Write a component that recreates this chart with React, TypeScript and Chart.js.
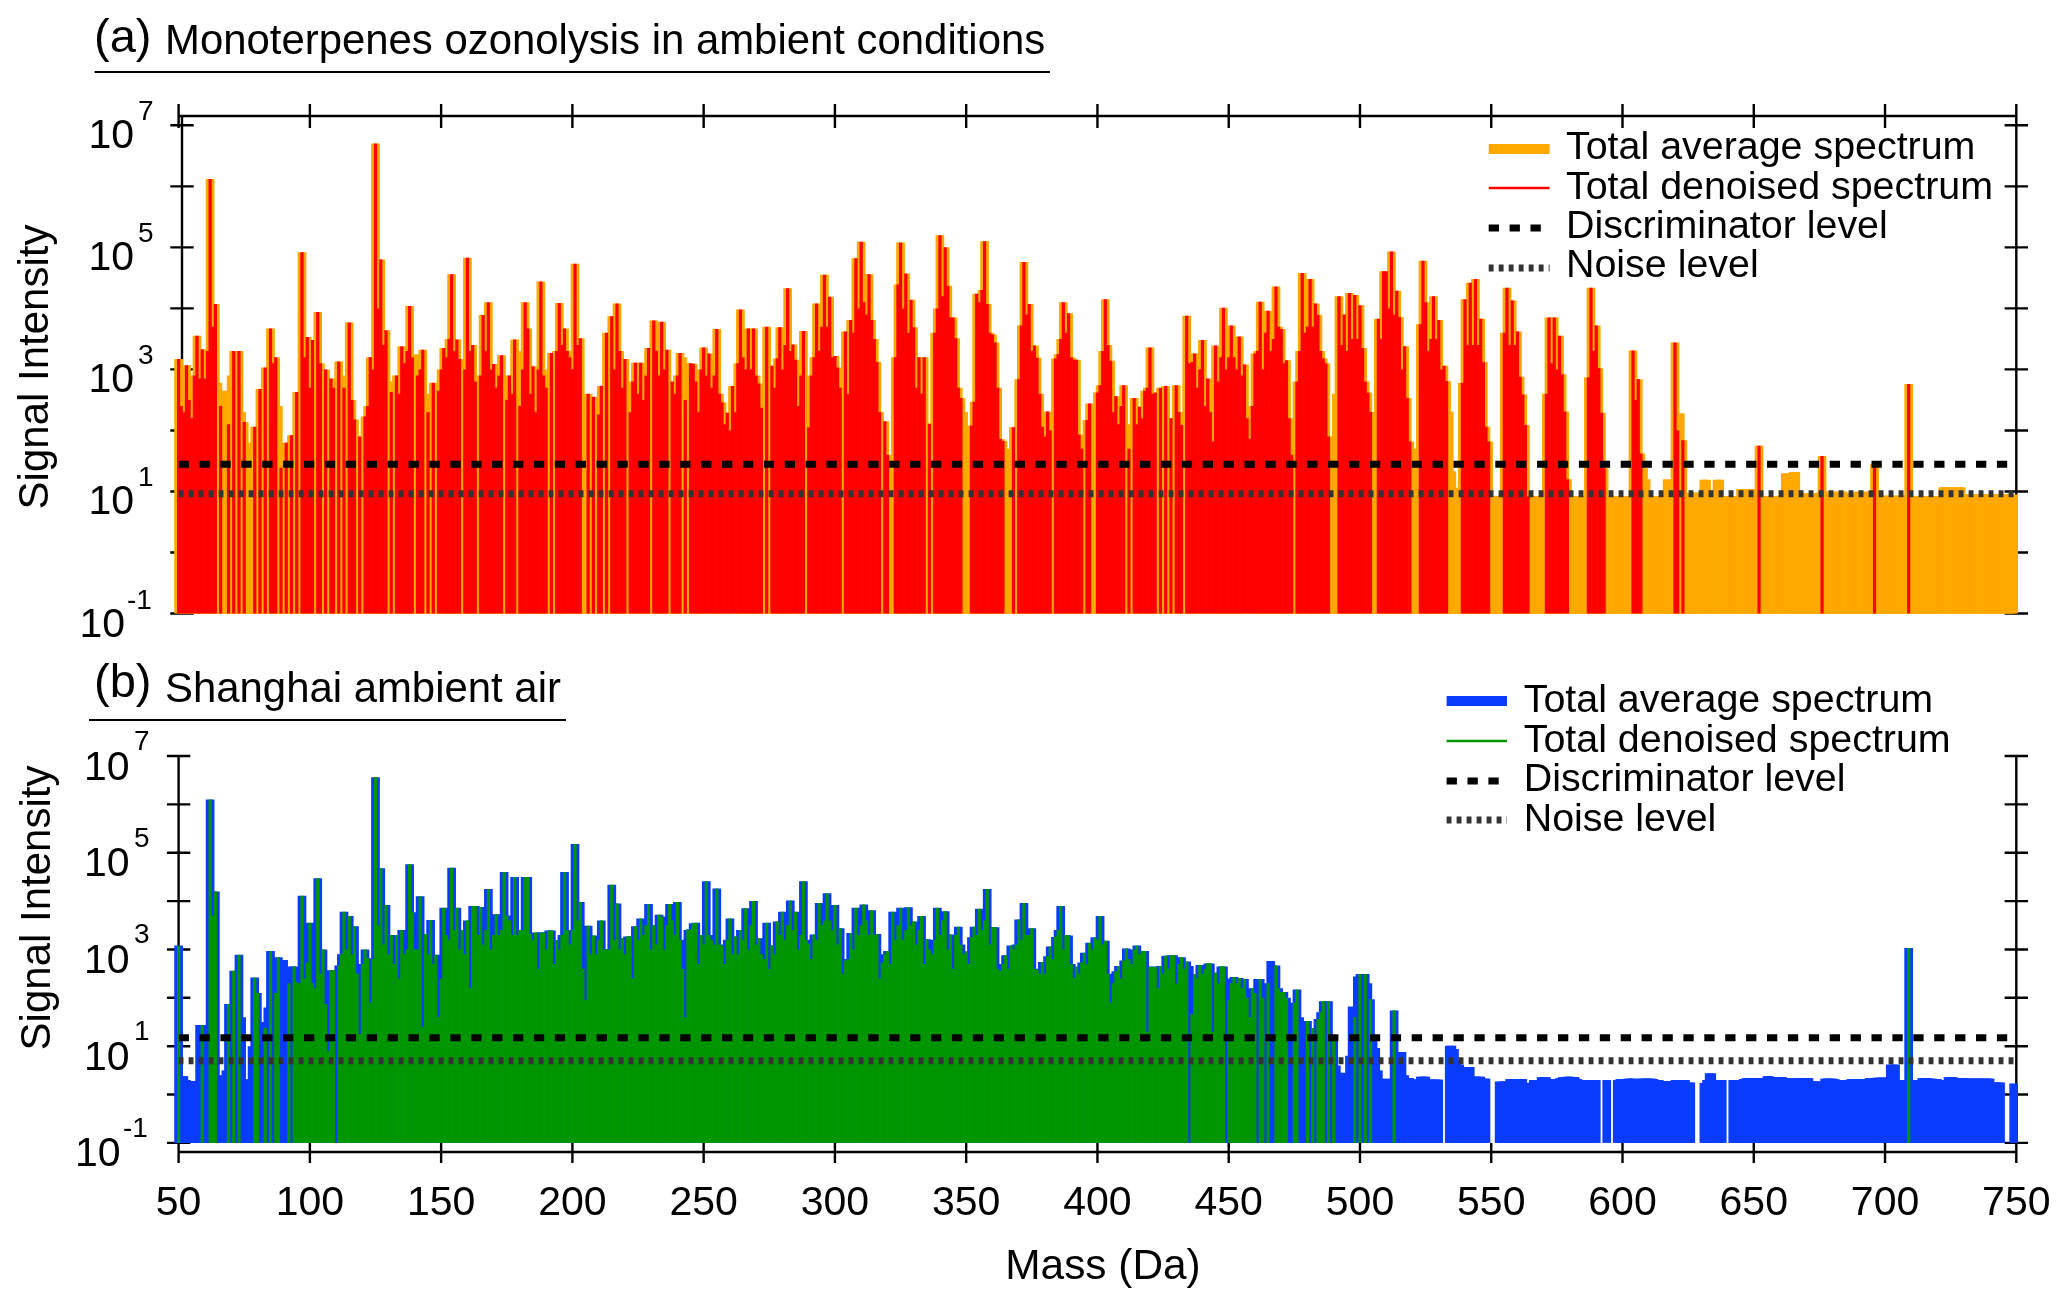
import React, { useEffect, useRef } from "react";
import { Chart, registerables } from "chart.js";

Chart.register(...registerables);

const N = null;
const FIRST_MASS = 50;

// log10 of the signal, one value per mass (Da), ten masses to a row, from 50 Da.
const averageLogA = [
  3.17,2.4,2.3,3.07,2.5,2.2,2.9,3.55,2.85,3.33,
  2.85,3.3,6.12,3.7,4.07,2.78,2.4,1.9,2.65,2.1,
  2.9,3.3,2.8,3.3,2.3,2.14,1.8,1.3,1.2,2.06,
  1.6,2.68,2.2,3.03,2.5,3.67,3.1,3.2,2.4,1.39,
  1.4,1.8,1.5,1.92,1.6,2.63,2.2,4.92,3.2,3.53,
  2.7,3.48,2.6,3.94,3.1,2.8,3.0,2.6,2.85,2.7,
  2.7,3.13,2.9,2.7,2.4,3.77,2.5,2.18,1.4,1.9,
  1.7,2.23,2.4,3.2,3.0,6.7,4.0,4.8,3.4,3.64,
  2.8,2.63,2.4,2.9,2.6,3.38,3.1,3.3,4.04,3.2,
  3.25,2.9,3.0,3.32,2.6,2.3,2.4,2.78,2.4,2.65,
  3.0,3.35,3.2,3.5,4.56,3.3,3.49,3.17,2.4,3.0,
  4.83,3.3,3.4,2.8,2.6,2.9,3.89,3.3,4.1,3.0,
  3.09,2.7,2.9,3.23,2.7,2.5,2.9,2.6,3.49,3.3,
  2.4,3.0,4.1,3.67,2.6,3.05,2.3,3.0,4.44,2.9,
  2.7,3.0,3.27,2.9,3.3,4.09,3.4,3.67,3.3,3.2,
  3.0,4.73,3.4,3.51,2.5,2.3,2.6,2.1,2.55,2.0,
  2.26,2.73,2.2,3.6,2.4,3.87,3.0,4.08,3.3,2.7,
  3.17,2.6,2.3,2.8,3.11,2.6,3.11,2.5,2.9,3.35,
  3.0,3.8,3.3,2.9,3.78,3.0,3.32,2.6,2.8,2.6,
  2.9,3.27,3.2,2.5,2.8,3.1,3.09,2.8,2.3,3.0,
  3.36,2.9,3.26,2.7,2.9,3.66,2.6,2.46,2.1,2.29,
  2.0,2.73,2.3,3.1,3.98,3.2,3.0,3.67,3.0,3.67,
  2.9,2.77,2.37,2.6,3.7,2.5,3.06,2.7,3.18,3.69,
  3.0,3.4,4.33,3.3,3.41,3.16,2.4,2.9,3.63,2.5,
  2.05,2.9,3.2,4.08,3.3,3.7,4.55,3.7,4.19,3.2,
  3.22,3.03,2.7,2.3,3.62,2.6,3.81,3.6,4.82,4.0,
  5.09,4.1,3.9,4.56,3.81,3.5,3.12,2.3,2.15,2.15,
  1.6,1.4,1.4,3.2,4.39,5.08,4.0,4.57,3.6,4.14,
  3.69,2.7,3.2,2.6,3.2,1.9,2.11,1.6,3.6,4.0,
  5.2,4.2,5.0,4.37,3.85,3.85,3.51,2.7,2.53,2.3,
  1.9,1.7,2.08,2.47,4.24,4.1,4.3,5.1,4.07,3.6,
  3.57,3.44,2.7,1.86,1.83,1.3,1.2,1.7,2.05,1.7,
  2.84,3.72,4.76,3.9,4.07,3.3,3.39,3.19,2.6,2.06,
  1.9,2.31,2.0,1.9,3.18,3.25,3.5,4.1,3.6,3.92,
  3.2,3.16,3.16,1.93,1.7,1.7,2.17,2.44,2.2,2.3,
  2.62,2.74,3.3,4.15,3.4,3.14,2.3,2.56,2.1,2.4,
  2.74,2.0,1.7,2.1,2.53,2.1,2.39,2.2,2.65,2.7,
  3.36,2.6,2.62,1.7,2.7,2.1,2.73,2.1,2.2,2.0,
  2.74,2.3,2.09,2.1,3.88,3.1,3.12,3.26,2.7,3.0,
  3.48,2.4,2.85,2.3,1.82,3.39,2.8,3.2,4.01,3.0,
  3.2,3.72,3.2,3.0,3.54,2.9,3.08,2.2,1.86,2.4,
  3.26,3.3,4.11,3.0,3.6,3.96,3.3,3.5,4.36,3.7,
  3.66,3.1,3.15,2.2,1.6,1.3,2.8,3.3,4.58,3.6,
  3.7,4.48,3.7,4.08,3.89,3.3,3.18,3.1,1.9,1.36,
  1.2,2.6,4.2,3.4,3.9,3.3,4.25,3.5,4.22,3.5,
  4.05,3.35,2.8,2.62,2.3,1.77,1.77,3.83,3.5,4.61,
  4.61,4.0,4.93,3.9,4.29,3.86,3.0,3.38,2.53,1.82,
  1.7,.93,.93,3.74,4.78,4.1,3.3,3.5,4.2,3.5,
  3.81,3.0,3.06,2.81,2.31,1.33,.95,1.06,.95,2.78,
  4.15,3.4,4.42,3.4,4.48,3.4,3.83,3.12,2.06,1.82,
  .93,.92,.92,.92,.93,3.6,4.34,3.4,4.13,3.4,
  3.62,2.88,2.59,2.09,.92,.92,.92,.92,.92,.92,
  .92,2.6,3.85,3.1,3.85,3.0,3.55,2.92,2.31,1.2,
  .92,.92,.92,.85,.92,.92,.92,2.87,4.34,3.3,
  3.72,3.02,2.29,1.38,.92,.92,.92,.92,.92,.92,
  .92,.92,.92,.92,3.31,2.5,2.84,1.62,1.38,1.2,
  .92,.92,.92,.92,.92,.92,.92,1.2,.95,.95,
  3.44,2.0,2.28,1.84,.95,.95,.98,.98,.98,.98,
  .98,1.19,1.19,.98,.98,.98,1.19,1.19,.92,.92,
  .92,.92,.92,.92,.92,1.04,1.04,1.04,1.04,1.04,
  .92,.92,1.75,.92,.92,.92,.92,.92,.92,.92,
  .93,.93,1.3,1.3,1.25,1.32,1.32,.95,.97,.97,
  .97,.97,.97,.97,.95,.98,1.58,.98,1.0,1.0,
  1.0,.98,.98,1.0,1.0,.97,.97,.97,.98,.98,
  1.0,1.0,.98,.98,1.0,1.0,1.45,.93,.93,.93,
  .93,.93,.93,.93,.93,.93,.93,.93,.93,2.76,
  .92,.92,.92,.92,.92,.92,.92,.92,.92,.92,
  .92,.85,1.07,1.07,1.07,1.07,1.07,1.07,1.07,1.07,
  .95,.95,.95,.95,.95,.95,.95,.95,.95,.95,
  .95,.95,.95,.95,.95,.95,.95,.95,.95,.95,
];

const averageLogB = [
  3.08,.38,.38,.3,.28,.28,.28,.28,1.44,1.44,
  1.0,.6,6.1,3.7,4.2,.4,.2,.2,.5,1.87,
  1.6,2.56,2.3,2.89,1.6,.31,.31,.31,1.0,2.42,
  2.1,1.5,.8,1.38,1.8,2.97,2.2,2.1,2.84,1.8,
  2.78,1.5,2.3,2.65,2.65,2.32,2.3,4.11,2.4,2.73,
  3.55,2.3,2.2,4.47,2.5,3.0,1.87,.9,2.57,2.57,
  2.57,2.67,2.9,3.78,3.0,3.69,2.9,3.48,2.5,1.25,
  2.7,3.0,2.82,1.9,2.8,6.56,3.5,4.68,3.1,3.92,
  2.9,3.3,2.7,3.3,2.4,3.4,2.9,3.0,4.76,3.77,
  3.0,3.0,4.1,1.4,3.32,2.9,3.61,2.7,2.89,1.6,
  2.4,3.86,3.3,3.2,4.69,3.4,3.86,3.0,3.4,2.9,
  3.6,2.2,3.9,3.9,3.3,3.88,3.1,3.4,4.25,3.0,
  3.3,3.73,3.3,3.4,4.6,3.7,3.6,3.3,4.5,3.3,
  3.4,3.4,4.5,4.5,3.32,3.2,3.35,2.6,3.35,3.35,
  3.0,3.39,3.39,2.7,3.19,3.0,3.3,4.6,3.4,3.1,
  3.4,5.18,3.6,3.98,2.6,1.95,3.49,2.9,3.29,2.9,
  3.2,3.6,3.0,3.0,3.0,4.34,3.2,3.95,3.0,3.23,
  2.9,3.27,3.27,2.4,3.48,3.2,3.64,3.3,3.5,3.94,
  3.0,3.5,3.1,3.72,3.68,3.0,3.5,3.94,3.6,3.3,
  3.98,3.2,2.6,1.6,3.4,3.42,3.54,3.55,2.7,3.3,
  3.1,4.41,3.3,3.2,3.1,4.26,3.1,3.08,2.7,3.2,
  3.64,2.9,3.27,2.9,3.4,3.2,3.85,3.0,3.5,4.0,
  3.1,3.23,2.9,2.8,3.55,2.6,3.08,2.9,3.58,3.3,
  3.78,3.2,3.5,4.01,3.4,3.78,3.0,3.3,4.41,3.2,
  3.12,2.8,3.31,3.2,3.96,3.5,3.6,4.16,3.6,3.4,
  3.92,3.1,3.44,2.5,2.77,2.8,3.34,3.0,3.86,3.3,
  3.5,3.93,3.6,3.3,3.81,3.3,3.32,2.4,2.73,2.9,
  2.97,2.7,3.78,3.2,3.5,3.86,3.2,3.4,3.87,3.5,
  3.58,3.1,3.4,3.69,2.7,3.21,3.0,2.9,3.2,3.86,
  3.3,3.6,3.79,3.0,3.31,2.6,3.3,3.47,3.1,2.9,
  2.96,2.7,3.25,3.47,3.3,3.84,3.4,3.6,4.25,3.1,
  3.46,3.46,2.6,2.56,2.7,2.88,2.6,3.08,3.0,3.1,
  3.62,3.2,3.96,3.3,3.3,3.44,2.6,2.58,2.5,2.74,
  2.5,2.86,3.06,2.8,3.26,3.4,3.9,3.0,3.3,3.29,
  2.7,2.41,2.64,2.5,2.73,2.93,2.7,3.14,3.0,3.25,
  3.2,3.69,3.1,3.18,2.5,1.9,2.3,2.55,2.66,2.4,
  2.77,3.02,2.8,2.7,3.0,3.08,2.9,2.97,2.97,1.3,
  2.64,2.64,2.64,2.2,2.66,2.5,2.87,2.6,2.88,2.88,
  2.3,2.7,2.84,2.6,2.75,2.66,1.67,2.49,2.4,2.68,
  2.5,2.6,2.71,2.71,1.3,2.52,2.3,2.65,2.65,2.4,
  1.95,2.3,2.43,2.3,2.41,2.2,2.39,2.0,1.6,2.2,
  2.1,2.39,2.39,2.0,1.5,2.3,2.76,2.2,2.67,2.2,
  2.12,2.12,2.0,1.65,1.4,1.9,2.17,1.6,.92,1.2,
  1.52,1.1,1.37,1.0,1.56,1.7,1.93,1.4,1.93,1.0,
  1.12,.6,.45,.45,.33,.33,.8,1.82,1.6,2.44,
  2.49,2.49,2.49,2.3,1.97,1.2,.96,.5,.29,.3,
  .33,.3,.3,1.74,.6,.7,.88,.4,.34,.34,
  .31,.31,.31,.37,.37,.37,.31,.31,.31,.31,
  .31,N,N,N,1.01,1.01,.94,.7,.62,.5,
  .57,.57,.57,.37,.37,.37,.37,.33,.33,N,
  N,N,N,.27,.27,.27,.27,.32,.32,.32,
  .32,.32,.32,.24,.24,.24,.3,.3,.3,.36,
  .36,.36,.32,.32,.26,.26,.34,.36,.36,.37,
  .37,.36,.36,.32,.3,.28,.3,.3,.3,.3,
  .3,N,N,N,.3,N,N,N,.3,.32,
  .32,.3,.33,.33,.33,.32,.3,.33,.33,.33,
  .33,.33,.32,.3,.3,.28,.28,.27,.28,.28,
  .3,.3,.3,.3,.3,.25,.25,N,N,N,
  N,.24,.3,.44,.44,.3,.3,.3,.3,N,
  N,N,.3,.3,.3,.3,.32,.34,.34,.34,
  .34,.34,.34,.34,.34,.38,.38,.36,.34,.36,
  .36,.36,.34,.34,.32,.32,.34,.34,.34,.34,
  .34,.34,.28,.27,.27,.27,.27,.33,.33,.33,
  .33,.32,.3,.3,.3,.3,.3,.32,.32,.32,
  .32,.32,.32,.32,.34,.34,.34,.35,.35,.35,
  .35,.35,.62,.62,.62,.28,.28,.3,.3,3.03,
  .3,.3,.25,.25,.34,.34,.34,.33,.33,.32,
  .32,.24,.3,.3,.36,.36,.36,.33,.33,.34,
  .34,.33,.33,.33,.33,.33,.33,.33,.33,.33,
  .33,.25,.25,.25,.25,N,N,N,N,.23,
];

// Mass ranges [from, to] in which the denoised spectrum keeps the signal.
const denoisedRangesA = [
  [50,64],[66,66],[69,69],[71,71],[73,73],[75,75],[79,79],[81,81],[83,83],[85,87],[89,89],[91,91],[93,93],[95,95],
  [97,101],[103,104],[106,106],[108,109],[111,111],[113,113],[115,117],[119,119],[121,129],[131,131],[133,139],
  [141,143],[145,145],[147,147],[149,157],[159,163],[165,173],[175,178],[180,190],[192,192],[194,203],[206,206],
  [208,208],[210,211],[213,213],[215,220],[222,229],[231,236],[238,241],[243,243],[245,272],[274,274],[276,288],
  [290,302],[304,317],[319,320],[323,334],[336,336],[338,348],[352,364],[368,368],[370,382],[384,394],[396,397],
  [400,410],[412,412],[414,422],[424,424],[426,426],[428,428],[430,432],[434,474],[476,488],[492,504],
  [507,519],[523,533],[539,549],[555,564],[571,579],[587,593],[604,607],[620,621],[623,623],[652,652],[676,676],
  [696,696],[709,709],
];
const denoisedRangesB = [
  [50,50],[59,59],[62,64],[69,69],[71,71],[73,73],[79,80],[83,83],[85,85],[87,88],[92,92],[94,109],[111,434],
  [436,448],[450,460],[462,463],[465,465],[468,472],[475,476],[480,480],[482,482],[484,486],[488,488],[490,490],
  [498,498],[500,500],[502,502],[504,504],[513,513],[709,709],
];

const levelsA = { discriminator: 28, noise: 9.2 };
const levelsB = { discriminator: 15, noise: 5 };
const massRange = [50, 750];
const yTickValues = [1e7, 1e6, 1e5, 1e4, 1e3, 1e2, 1e1, 1, 0.1];
const yLabels = [
  { value: 1e7, exponent: "7" },
  { value: 1e5, exponent: "5" },
  { value: 1e3, exponent: "3" },
  { value: 1e1, exponent: "1" },
  { value: 0.1, exponent: "-1" },
];
const legendLabels = ["Total average spectrum", "Total denoised spectrum", "Discriminator level", "Noise level"];

const FONT = '"Liberation Sans", Arial, sans-serif';
const BLACK = "#000000";
const NOISE_GREY = "#333333";

const toPoints = (logs: (number | null)[]) =>
  logs
    .map((v, i) => (v === null ? null : { x: FIRST_MASS + i, y: Math.pow(10, v) }))
    .filter(Boolean);

const keep = (logs: (number | null)[], ranges: number[][]) =>
  logs.map((v, i) => {
    const m = FIRST_MASS + i;
    return ranges.some(([a, b]) => m >= a && m <= b) ? v : null;
  });

type PanelGeom = {
  name: string;
  canvasTop: number;
  canvasHeight: number;
  chartTop: number;
  chartBottom: number;
  xAxisHeight: number;
  leftAxisX: number;
  xAxisY: number;
  xTick: [number, number];
  xAxisPosition: "top" | "bottom";
  showXLabels: boolean;
  axisTop: number;
  axisBottom: number;
  avgColor: string;
  denColor: string;
  averageLog: (number | null)[];
  ranges: number[][];
  levels: { discriminator: number; noise: number };
  tag: { text: string; x: number; baseline: number };
  title: { text: string; x: number; baseline: number };
  underline: { x0: number; x1: number; y: number };
  yTitle: { x: number; y: number };
  yLabel: { posRight: number; posSup: number; negRight: number; negSup: number; baseDy: number; supDy: number };
  legend: { sampleX0: number; sampleX1: number; textX: number; baselines: number[]; centers: number[] };
};

const panelA: PanelGeom = {
  name: "a",
  canvasTop: 0,
  canvasHeight: 640,
  chartTop: 125.3,
  chartBottom: 613.5,
  xAxisHeight: 0,
  leftAxisX: 182,
  xAxisY: 116,
  xTick: [104, 128],
  xAxisPosition: "top",
  showXLabels: false,
  axisTop: 116,
  axisBottom: 613.5,
  avgColor: "#FFA800",
  denColor: "#FF0000",
  averageLog: averageLogA,
  ranges: denoisedRangesA,
  levels: levelsA,
  tag: { text: "(a)", x: 94, baseline: 52 },
  title: { text: "Monoterpenes ozonolysis in ambient conditions", x: 165, baseline: 54 },
  underline: { x0: 94.6, x1: 1050, y: 72 },
  yTitle: { x: 48, y: 367 },
  yLabel: { posRight: 134, posSup: 138, negRight: 125, negSup: 127, baseDy: 23, supDy: -5 },
  legend: { sampleX0: 1488.7, sampleX1: 1549.6, textX: 1566, baselines: [159, 198.6, 238, 277], centers: [149, 188, 228, 268] },
};

const panelB: PanelGeom = {
  name: "b",
  canvasTop: 640,
  canvasHeight: 665,
  chartTop: 756,
  chartBottom: 1142.9,
  xAxisHeight: 162.1,
  leftAxisX: 178.6,
  xAxisY: 1152,
  xTick: [1143, 1163],
  xAxisPosition: "bottom",
  showXLabels: true,
  axisTop: 756,
  axisBottom: 1152,
  avgColor: "#0A3CFF",
  denColor: "#009600",
  averageLog: averageLogB,
  ranges: denoisedRangesB,
  levels: levelsB,
  tag: { text: "(b)", x: 94, baseline: 697 },
  title: { text: "Shanghai ambient air", x: 165, baseline: 702 },
  underline: { x0: 89, x1: 566, y: 720 },
  yTitle: { x: 50, y: 908 },
  yLabel: { posRight: 129.5, posSup: 134, negRight: 120.5, negSup: 123, baseDy: 23.5, supDy: -6 },
  legend: { sampleX0: 1446.6, sampleX1: 1507, textX: 1523.7, baselines: [711.8, 751.5, 791, 830.5], centers: [701, 741, 781, 820] },
};

const RIGHT = 2016.3;
const LEFT = 178.6;
const TICK_HALF = 11.7;

function frameAndText(p: PanelGeom) {
  return {
    id: "frameAndText-" + p.name,
    beforeDatasetsDraw(chart: any) {
      const ctx = chart.ctx;
      const x = chart.scales.x;
      const y = chart.scales.y;
      ctx.save();
      ctx.translate(0, -p.canvasTop);
      ctx.strokeStyle = BLACK;
      ctx.lineWidth = 2.4;
      ctx.beginPath();
      ctx.moveTo(LEFT, p.xAxisY);
      ctx.lineTo(RIGHT, p.xAxisY);
      ctx.moveTo(p.leftAxisX, p.axisTop);
      ctx.lineTo(p.leftAxisX, p.axisBottom);
      ctx.moveTo(RIGHT, p.axisTop);
      ctx.lineTo(RIGHT, p.axisBottom);
      x.ticks.forEach((t: any) => {
        const px = x.getPixelForValue(t.value);
        ctx.moveTo(px, p.xTick[0]);
        ctx.lineTo(px, p.xTick[1]);
      });
      y.ticks.forEach((t: any) => {
        const py = y.getPixelForValue(t.value) + p.canvasTop;
        ctx.moveTo(p.leftAxisX - TICK_HALF, py);
        ctx.lineTo(p.leftAxisX + TICK_HALF, py);
        ctx.moveTo(RIGHT - TICK_HALF, py);
        ctx.lineTo(RIGHT + TICK_HALF, py);
      });
      ctx.stroke();
      ctx.restore();
    },
    afterDatasetsDraw(chart: any) {
      const ctx = chart.ctx;
      const y = chart.scales.y;
      ctx.save();
      ctx.translate(0, -p.canvasTop);
      ctx.fillStyle = BLACK;
      ctx.textBaseline = "alphabetic";

      // y tick labels with a raised exponent
      yLabels.forEach((l) => {
        const py = y.getPixelForValue(l.value) + p.canvasTop;
        const neg = l.exponent.startsWith("-");
        ctx.font = `41px ${FONT}`;
        ctx.textAlign = "right";
        ctx.fillText("10", neg ? p.yLabel.negRight : p.yLabel.posRight, py + p.yLabel.baseDy);
        ctx.font = `28px ${FONT}`;
        ctx.textAlign = "left";
        ctx.fillText(l.exponent, neg ? p.yLabel.negSup : p.yLabel.posSup, py + p.yLabel.supDy);
      });

      // y title
      ctx.save();
      ctx.translate(p.yTitle.x, p.yTitle.y);
      ctx.rotate(-Math.PI / 2);
      ctx.font = `42px ${FONT}`;
      ctx.textAlign = "center";
      ctx.fillText("Signal Intensity", 0, 0);
      ctx.restore();

      // panel title
      ctx.textAlign = "left";
      ctx.font = `47px ${FONT}`;
      ctx.fillText(p.tag.text, p.tag.x, p.tag.baseline);
      ctx.font = `41.9px ${FONT}`;
      ctx.fillText(p.title.text, p.title.x, p.title.baseline);
      ctx.strokeStyle = BLACK;
      ctx.lineWidth = 2.2;
      ctx.beginPath();
      ctx.moveTo(p.underline.x0, p.underline.y);
      ctx.lineTo(p.underline.x1, p.underline.y);
      ctx.stroke();

      // legend
      const { sampleX0, sampleX1, textX, baselines, centers } = p.legend;
      const samples = [
        { color: p.avgColor, width: 10, dash: [] as number[] },
        { color: p.denColor, width: 2.6, dash: [] as number[] },
        { color: BLACK, width: 7, dash: [10.3, 10.6] },
        { color: NOISE_GREY, width: 7, dash: [4.9, 5.1] },
      ];
      samples.forEach((s, i) => {
        ctx.strokeStyle = s.color;
        ctx.lineWidth = s.width;
        ctx.setLineDash(s.dash);
        ctx.beginPath();
        ctx.moveTo(sampleX0, centers[i]);
        ctx.lineTo(sampleX1, centers[i]);
        ctx.stroke();
      });
      ctx.setLineDash([]);
      ctx.font = `39.4px ${FONT}`;
      legendLabels.forEach((t, i) => ctx.fillText(t, textX, baselines[i]));

      // x title
      if (p.showXLabels) {
        ctx.font = `42.4px ${FONT}`;
        ctx.textAlign = "center";
        ctx.fillText("Mass (Da)", 1103, 1279);
      }
      ctx.restore();
    },
  };
}

function makeConfig(p: PanelGeom): any {
  const denoised = keep(p.averageLog, p.ranges);
  return {
    type: "bar",
    data: {
      datasets: [
        {
          type: "bar",
          label: legendLabels[0],
          data: toPoints(p.averageLog),
          backgroundColor: p.avgColor,
          barThickness: 8.7,
          grouped: false,
          clip: false,
          order: 4,
          inflateAmount: 0,
        },
        {
          type: "bar",
          label: legendLabels[1],
          data: toPoints(denoised),
          backgroundColor: p.denColor,
          barThickness: 3.2,
          grouped: false,
          clip: false,
          order: 3,
          inflateAmount: 0,
        },
        {
          type: "line",
          label: legendLabels[2],
          data: massRange.map((m) => ({ x: m, y: p.levels.discriminator })),
          borderColor: BLACK,
          borderWidth: 7,
          borderDash: [10.3, 10.6],
          borderCapStyle: "butt",
          pointRadius: 0,
          order: 2,
        },
        {
          type: "line",
          label: legendLabels[3],
          data: massRange.map((m) => ({ x: m, y: p.levels.noise })),
          borderColor: NOISE_GREY,
          borderWidth: 7,
          borderDash: [4.9, 5.1],
          borderCapStyle: "butt",
          pointRadius: 0,
          order: 1,
        },
      ],
    },
    options: {
      animation: false,
      responsive: false,
      events: [],
      font: { family: FONT },
      layout: {
        autoPadding: false,
        padding: {
          left: 0,
          right: 2067 - RIGHT,
          top: p.chartTop - p.canvasTop,
          bottom: p.canvasTop + p.canvasHeight - p.chartBottom - p.xAxisHeight,
        },
      },
      plugins: { legend: { display: false }, tooltip: { enabled: false }, title: { display: false } },
      scales: {
        x: {
          type: "linear",
          position: p.xAxisPosition,
          min: massRange[0],
          max: massRange[1],
          offset: false,
          grid: { display: false, drawTicks: false },
          border: { display: false },
          ticks: {
            display: p.showXLabels,
            stepSize: 50,
            autoSkip: false,
            maxRotation: 0,
            padding: 36,
            color: BLACK,
            font: { family: FONT, size: 41 },
          },
          afterFit: (s: any) => {
            s.height = p.xAxisHeight;
            // the "750" label overhangs into the page margin: it must not shrink the plot
            s.paddingLeft = 0;
            s.paddingRight = 0;
          },
        },
        y: {
          type: "logarithmic",
          min: 0.1,
          max: 1e7,
          grid: { display: false, drawTicks: false },
          border: { display: false },
          ticks: { display: false },
          afterBuildTicks: (s: any) => {
            s.ticks = yTickValues.map((value) => ({ value }));
          },
          afterFit: (s: any) => {
            s.width = LEFT;
          },
        },
      },
    },
    plugins: [frameAndText(p)],
  };
}

function Panel({ p }: { p: PanelGeom }) {
  const ref = useRef<HTMLCanvasElement | null>(null);
  useEffect(() => {
    const chart = new Chart(ref.current as HTMLCanvasElement, makeConfig(p));
    return () => chart.destroy();
  }, [p]);
  return (
    <canvas
      ref={ref}
      width={2067}
      height={p.canvasHeight}
      style={{ position: "absolute", left: 0, top: p.canvasTop, width: 2067, height: p.canvasHeight, display: "block" }}
    />
  );
}

export default function App() {
  return (
    <div style={{ position: "absolute", left: 0, top: 0, width: 2067, height: 1305, background: "#fff", overflow: "hidden" }}>
      <Panel p={panelA} />
      <Panel p={panelB} />
    </div>
  );
}
